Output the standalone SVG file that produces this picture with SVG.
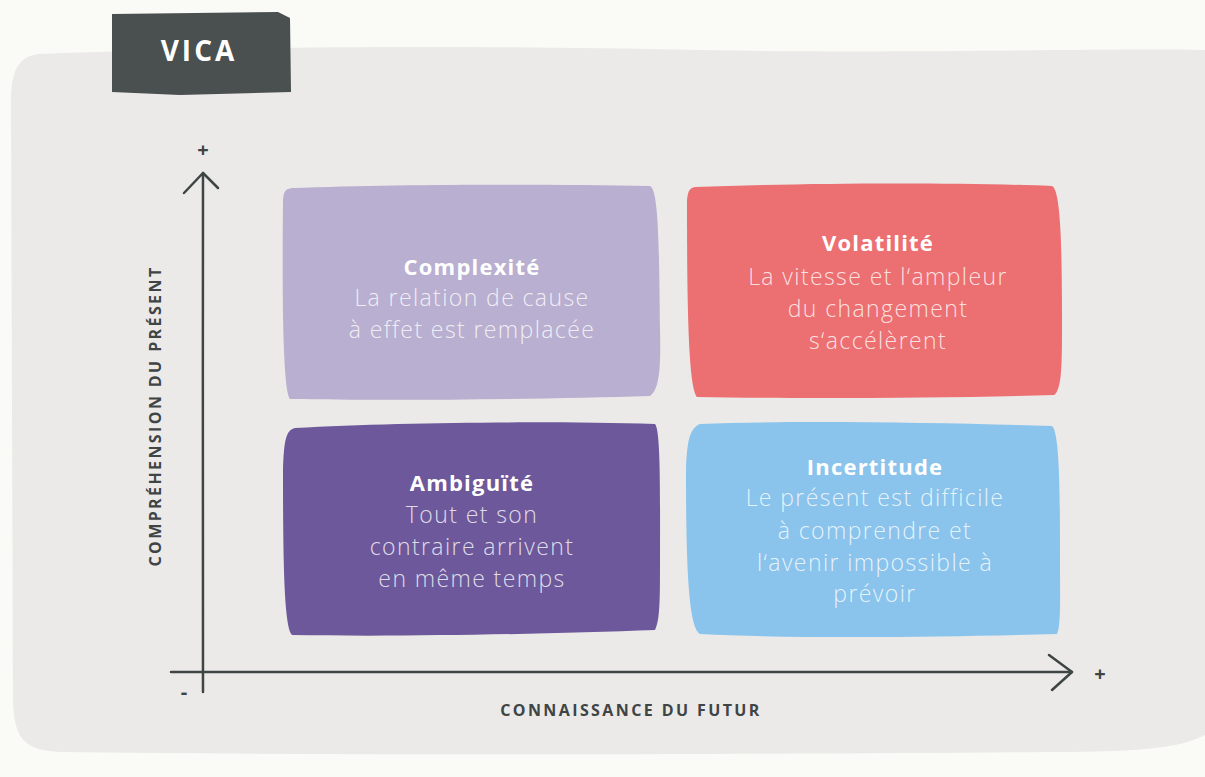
<svg xmlns="http://www.w3.org/2000/svg" width="1205" height="777" viewBox="0 0 1205 777">
<style>
.ttl{font-family:"Open Sans","Liberation Sans",sans-serif;font-weight:700;font-size:22px;letter-spacing:1.2px;fill:#ffffff;text-anchor:middle}
.body{font-family:"Open Sans","Liberation Sans",sans-serif;font-weight:300;font-size:23px;letter-spacing:1.4px;fill:#ffffff;fill-opacity:0.8;text-anchor:middle}
.axlbl{font-family:"Open Sans","Liberation Sans",sans-serif;font-weight:700;font-size:16px;letter-spacing:2.4px;fill:#3f4445;text-anchor:middle}
.sign{font-family:"Open Sans","Liberation Sans",sans-serif;font-weight:700;font-size:20px;fill:#3f4445;text-anchor:middle}
.ax{fill:none;stroke:#3f4445;stroke-width:2.5;stroke-linecap:round;stroke-linejoin:round}
</style>
<rect width="1205" height="777" fill="#fafaf7"/>
<path id="panel" d="M40 54 C200 48 420 44 700 50 C900 54 1100 48 1205 50 L1205 735 C1180 748 1140 752 1050 752 C800 754 400 756 60 752 C25 750 14 740 13 700 L11 110 C10 70 18 56 40 54 Z" fill="#ebeae8"/>
<g id="title">
<path d="M112 14 L278 12 L290 18 L291 92 L180 95 L112 92 Z" fill="#4a4f50"/>
<text x="199" y="61" font-family="'Open Sans','Liberation Sans',sans-serif" font-weight="700" font-size="28" letter-spacing="3" fill="#ffffff" text-anchor="middle">VICA</text>
</g>
<g id="connectors">
<path class="ax" d="M203 692 C204 500 202 350 203 173"/>
<path class="ax" d="M184 193 L203 173 L218 188"/>
<path class="ax" d="M171 672 C400 671 800 673 1072 672"/>
<path class="ax" d="M1049 655 L1072 672 L1052 690"/>
</g>
<g id="axis-labels">
<text class="sign" x="203" y="157">+</text>
<text class="sign" x="1100" y="681">+</text>
<text class="sign" x="184" y="699">-</text>
<text class="axlbl" x="631" y="716">CONNAISSANCE DU FUTUR</text>
<text class="axlbl" transform="translate(161 416) rotate(-90)">COMPRÉHENSION DU PRÉSENT</text>
</g>
<g id="complexite">
<path d="M292 188 C400 184 550 184 650 186 C659 190 659 250 660 330 C661 370 659 390 650 396 C550 399 400 401 290 399 C283 390 282 300 283 200 C284 190 286 189 292 188 Z" fill="#b9afd0"/>
<text class="ttl" x="472" y="275">Complexité</text>
<text class="body" x="472" y="306">La relation de cause</text>
<text class="body" x="472" y="338">à effet est remplacée</text>
</g>
<g id="volatilite">
<path d="M695 187 C800 183 950 182 1052 186 C1061 190 1062 250 1062 330 C1062 370 1061 390 1054 395 C950 398 800 399 697 397 C688 388 687 300 687 200 C688 190 690 188 695 187 Z" fill="#ec6f72"/>
<text class="ttl" x="878" y="251">Volatilité</text>
<text class="body" x="878" y="285">La vitesse et l‘ampleur</text>
<text class="body" x="878" y="317">du changement</text>
<text class="body" x="878" y="349">s‘accélèrent</text>
</g>
<g id="ambiguite">
<path d="M295 428 C400 422 550 421 655 424 C661 430 660 500 660 560 C660 600 660 620 655 630 C550 634 400 637 292 635 C284 628 283 560 283 470 C284 440 286 430 295 428 Z" fill="#6c589a"/>
<text class="ttl" x="472" y="491">Ambiguïté</text>
<text class="body" x="472" y="523">Tout et son</text>
<text class="body" x="472" y="555">contraire arrivent</text>
<text class="body" x="472" y="587">en même temps</text>
</g>
<g id="incertitude">
<path d="M700 424 C800 420 950 423 1052 426 C1060 432 1060 500 1060 560 C1060 600 1061 625 1057 634 C950 637 800 639 700 634 C688 628 686 560 686 470 C687 440 690 428 700 424 Z" fill="#8ac4ec"/>
<text class="ttl" x="875" y="475">Incertitude</text>
<text class="body" x="875" y="506">Le présent est difficile</text>
<text class="body" x="875" y="539">à comprendre et</text>
<text class="body" x="875" y="571">l‘avenir impossible à</text>
<text class="body" x="875" y="602">prévoir</text>
</g>
</svg>
